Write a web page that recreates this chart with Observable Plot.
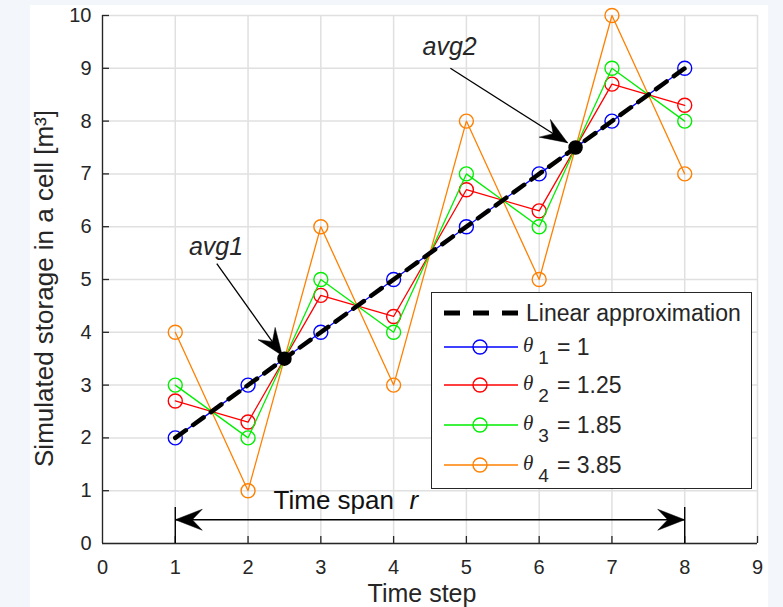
<!DOCTYPE html>
<html><head><meta charset="utf-8">
<script src="https://cdn.jsdelivr.net/npm/d3@7"></script>
<script src="https://cdn.jsdelivr.net/npm/@observablehq/plot@0.6"></script>
<style>
body{margin:0;background:#f3f6fa;}
#wrap{position:relative;width:783px;height:607px;overflow:hidden;font-family:"Liberation Sans",Arial,sans-serif;color:#262626;}
#paper{position:absolute;left:30px;top:5px;width:738px;height:602px;background:#fff;}
#chart{position:absolute;left:0;top:0;}
#legend{position:absolute;left:431px;top:292px;width:321px;height:197px;border:1.5px solid #262626;background:#fff;box-sizing:border-box;}
.row{position:absolute;left:12px;height:30px;display:flex;align-items:center;white-space:nowrap;}
.row svg{display:block;}
.lt{font-size:23px;margin-left:8px;}
.th{font-family:"Liberation Serif","DejaVu Serif",serif;font-style:italic;font-size:21px;margin-left:5px;position:relative;top:-2px;}
.sub{font-size:19px;position:relative;top:11px;margin-left:5px;}
.eq{font-size:23px;margin-left:8px;}
</style></head>
<body>
<div id="wrap"><div id="paper"></div><div id="chart"></div><div id="legend"></div></div>
<script>
// ---- data ----
const steps = [1, 2, 3, 4, 5, 6, 7, 8];
const theta1 = [2, 3, 4, 5, 6, 7, 8, 9];
const theta2 = [2.7, 2.3, 4.7, 4.3, 6.7, 6.3, 8.7, 8.3];
const theta3 = [3, 2, 5, 4, 7, 6, 9, 8];
const theta4 = [4, 1, 6, 3, 8, 5, 10, 7];
const seriesNames = ["θ1 = 1", "θ2 = 1.25", "θ3 = 1.85", "θ4 = 3.85"];
const seriesSubs = ["1", "2", "3", "4"];
const seriesParams = ["1", "1.25", "1.85", "3.85"];
const seriesColors = ["#0000ff", "#ff0000", "#00ee00", "#ff8000"];
const linearX = [1, 8];
const linearY = [2, 9];
const avgX = [2.5, 6.5];
const avgY = [3.5, 7.5];
const xTicks = [0, 1, 2, 3, 4, 5, 6, 7, 8, 9];
const yTicks = [0, 1, 2, 3, 4, 5, 6, 7, 8, 9, 10];
// annotations
const annLabels = ["avg1", "avg2"];
const annTextX = [1.56, 4.77];
const annTextY = [5.62, 9.4];
const annFromX = [1.57, 4.78];
const annFromY = [5.3, 9.0];
const annToX = [2.47, 6.39];
const annToY = [3.56, 7.59];
const spanX = [1, 8];
const spanY = [0.45, 0.45];
const spanBarTop = 0.68;
const spanText = ["Time span", "r"];
const spanTextX = [2.35, 4.22];
const spanTextY = [0.81, 0.81];

// ---- layout ----
const W = 783, H = 607, ML = 102, MR = 26, MT = 15, MB = 64;
const kx = (W - ML - MR) / (xTicks[xTicks.length - 1] - xTicks[0]);
const ky = (H - MT - MB) / (yTicks[yTicks.length - 1] - yTicks[0]);

function arrowHead(angle) {
  const L = 27, w = 10.5, n = 17, c = Math.cos(angle), s = Math.sin(angle);
  const pt = (u, v) => [u * c - v * s, u * s + v * c];
  return {
    draw(ctx) {
      ctx.moveTo(0, 0);
      ctx.lineTo(...pt(-L, w));
      ctx.lineTo(...pt(-n, 0));
      ctx.lineTo(...pt(-L, -w));
      ctx.closePath();
    }
  };
}
const screenAngle = (x1, y1, x2, y2) => Math.atan2(-(y2 - y1) * ky, (x2 - x1) * kx);

const allSeries = [theta1, theta2, theta3, theta4];
const rows = allSeries.flatMap((vals, k) => steps.map((s, i) => ({step: s, value: vals[i], name: seriesNames[k]})));

const marks = [
  Plot.ruleX(xTicks, {stroke: "#e0e0e0", strokeWidth: 1.5}),
  Plot.ruleY(yTicks, {stroke: "#e0e0e0", strokeWidth: 1.5}),
  Plot.ruleX([xTicks[0]], {stroke: "#262626", strokeWidth: 1.3}),
  Plot.ruleY([yTicks[0]], {stroke: "#262626", strokeWidth: 1.3}),
  Plot.ruleX(xTicks.slice(1), {y1: 0, y2: 7 / ky, stroke: "#262626", strokeWidth: 1.3}),
  Plot.ruleY(yTicks.slice(1), {x1: 0, x2: 7 / kx, stroke: "#262626", strokeWidth: 1.3})
];
seriesNames.forEach((nm, k) => {
  const d = rows.filter(r => r.name === nm);
  marks.push(Plot.line(d, {x: "step", y: "value", stroke: "name", strokeWidth: 1.3}));
  marks.push(Plot.dot(d, {x: "step", y: "value", stroke: "name", r: 7, strokeWidth: 1.4, fill: "none"}));
});
marks.push(Plot.line(linearX.map((x, i) => ({x, y: linearY[i]})), {x: "x", y: "y", stroke: "black", strokeWidth: 4.5, strokeDasharray: "13,9"}));
marks.push(Plot.dot(avgX.map((x, i) => ({x, y: avgY[i]})), {x: "x", y: "y", r: 6.5, fill: "black", stroke: "black"}));
// avg annotations
marks.push(Plot.link(annLabels, {x1: annFromX, y1: annFromY, x2: annToX, y2: annToY, stroke: "black", strokeWidth: 1.3}));
annLabels.forEach((l, i) => {
  marks.push(Plot.dot([l], {x: [annToX[i]], y: [annToY[i]], r: 5, symbol: arrowHead(screenAngle(annFromX[i], annFromY[i], annToX[i], annToY[i])), fill: "black", stroke: "black", strokeWidth: 0.5}));
});
marks.push(Plot.text(annLabels, {x: annTextX, y: annTextY, text: d => d, fontSize: 25, fontStyle: "italic", fill: "#262626", lineAnchor: "middle"}));
// time span
marks.push(Plot.ruleX(spanX, {y1: 0, y2: spanBarTop, stroke: "black", strokeWidth: 1.4}));
marks.push(Plot.link([0], {x1: [spanX[0]], y1: [spanY[0]], x2: [spanX[1]], y2: [spanY[1]], stroke: "black", strokeWidth: 1.3}));
marks.push(Plot.dot([0], {x: [spanX[0]], y: [spanY[0]], r: 5, symbol: arrowHead(Math.PI), fill: "black", stroke: "black", strokeWidth: 0.5}));
marks.push(Plot.dot([0], {x: [spanX[1]], y: [spanY[1]], r: 5, symbol: arrowHead(0), fill: "black", stroke: "black", strokeWidth: 0.5}));
marks.push(Plot.text([spanText[0]], {x: [spanTextX[0]], y: [spanTextY[0]], text: d => d, textAnchor: "start", fontSize: 26, fill: "#111", lineAnchor: "middle"}));
marks.push(Plot.text([spanText[1]], {x: [spanTextX[1]], y: [spanTextY[1]], text: d => d, textAnchor: "start", fontSize: 26, fontStyle: "italic", fill: "#111", lineAnchor: "middle"}));
// axis titles
marks.push(Plot.text(["Time step"], {frameAnchor: "bottom", textAnchor: "middle", lineAnchor: "middle", dy: 50, dx: -8, fontSize: 25, fill: "#262626"}));
marks.push(Plot.text(["Simulated storage in a cell [m³]"], {frameAnchor: "left", textAnchor: "middle", lineAnchor: "middle", rotate: -90, dx: -58, dy: 9, fontSize: 26, fill: "#262626"}));

const chart = Plot.plot({
  width: W, height: H,
  marginLeft: ML, marginRight: MR, marginTop: MT, marginBottom: MB,
  style: {background: "transparent", fontFamily: "'Liberation Sans', Arial, sans-serif", fontSize: "20px", color: "#262626", overflow: "visible"},
  x: {domain: [xTicks[0], xTicks[xTicks.length - 1]], ticks: xTicks, tickSize: 0, tickPadding: 16, label: null, tickFormat: d => String(d)},
  y: {domain: [yTicks[0], yTicks[yTicks.length - 1]], ticks: yTicks, tickSize: 0, tickPadding: 11, label: null, tickFormat: d => String(d)},
  color: {domain: seriesNames, range: seriesColors},
  marks
});
document.getElementById("chart").appendChild(chart);

// ---- legend ----
const leg = document.getElementById("legend");
const rowCenters = [20, 54, 92, 132, 172];
const ns = "http://www.w3.org/2000/svg";
function sample(kind, color) {
  let s = `<svg xmlns="${ns}" width="74" height="20" viewBox="0 0 74 20">`;
  if (kind === "dash") s += `<line x1="0" y1="10" x2="74" y2="10" stroke="black" stroke-width="5" stroke-dasharray="16,13"/>`;
  else s += `<line x1="0" y1="10" x2="74" y2="10" stroke="${color}" stroke-width="1.3"/><circle cx="36" cy="10" r="7" fill="none" stroke="${color}" stroke-width="1.4"/>`;
  return s + `</svg>`;
}
const r0 = document.createElement("div");
r0.className = "row"; r0.style.top = (rowCenters[0] - 15) + "px";
r0.innerHTML = sample("dash") + `<span class="lt">Linear approximation</span>`;
leg.appendChild(r0);
seriesNames.forEach((nm, k) => {
  const r = document.createElement("div");
  r.className = "row"; r.style.top = (rowCenters[k + 1] - 15) + "px";
  r.innerHTML = sample("line", seriesColors[k]) + `<span class="th">θ</span><span class="sub">${seriesSubs[k]}</span><span class="eq">= ${seriesParams[k]}</span>`;
  leg.appendChild(r);
});
</script>
</body></html>
